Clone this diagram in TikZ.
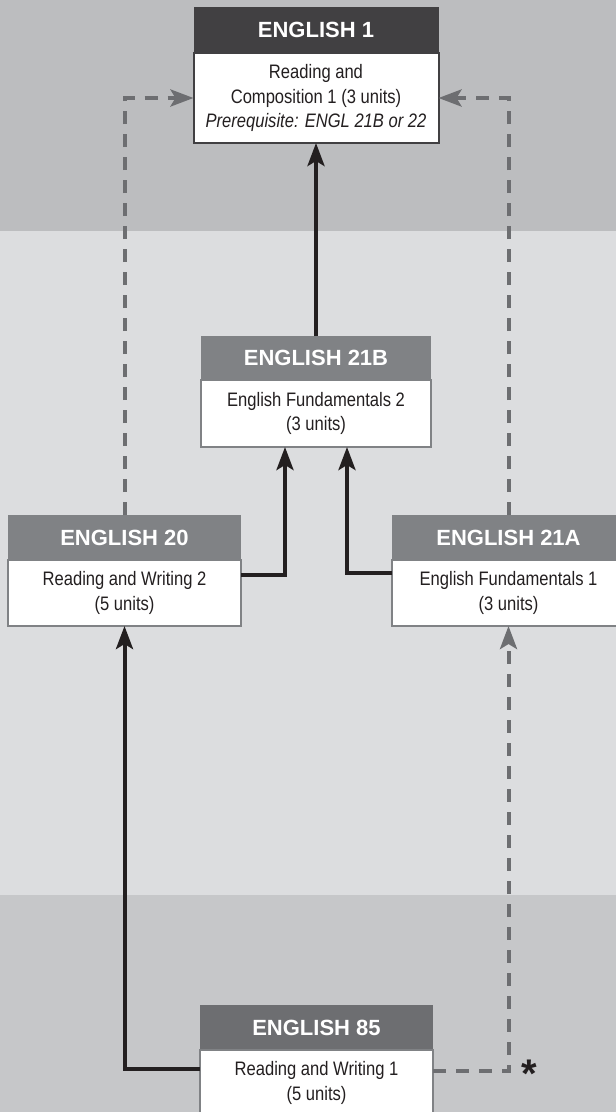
\documentclass[tikz,border=0pt]{standalone}
\usepackage{fontspec}
\setmainfont{Liberation Sans}
\newfontfamily\bodyfont[FakeStretch=0.85]{Liberation Sans}
\newfontfamily\hdrfont{Liberation Sans}
\usetikzlibrary{arrows.meta}
\definecolor{bandtop}{HTML}{BCBDBF}
\definecolor{bandmid}{HTML}{DCDDDF}
\definecolor{bandbot}{HTML}{C6C7C9}
\definecolor{hdark}{HTML}{414042}
\definecolor{hmid}{HTML}{808285}
\definecolor{hlow}{HTML}{6D6E71}
\definecolor{boxedge}{HTML}{808285}
\definecolor{dashcol}{HTML}{6D6E71}
\definecolor{solidcol}{HTML}{231F20}
\definecolor{textcol}{HTML}{231F20}
\begin{document}
\begin{tikzpicture}[x=1pt,y=-1pt,
  hdr/.style={draw=none, inner sep=0pt, outer sep=0pt, text=white,
    font=\hdrfont\fontsize{22}{26}\selectfont\bfseries, minimum height=45pt},
  body/.style={fill=white, draw=boxedge, line width=1.5pt, inner sep=0pt, outer sep=0pt,
    align=center, font=\bodyfont\fontsize{19.5}{24.5}\selectfont, text=textcol, minimum height=66pt},
  tipstyle/.style={-{Stealth[length=23pt,width=17pt,inset=5pt]}},
  solidarrow/.style={line width=4pt, draw=solidcol, tipstyle},
  dasharrow/.style={line width=4pt, draw=dashcol, dash pattern=on 13pt off 10pt, tipstyle},
  asterisk/.style={font=\hdrfont\fontsize{40}{40}\selectfont\bfseries, text=solidcol, inner sep=0pt, anchor=base}]
\useasboundingbox (0,0) rectangle (616,1112);
\clip (0,0) rectangle (616,1112);
% background bands
\fill[bandtop] (0,0) rectangle (616,231);
\fill[bandmid] (0,231) rectangle (616,895);
\fill[bandbot] (0,895) rectangle (616,1112);

% ENGLISH 1
\node[hdr, fill=hdark, minimum width=245pt, minimum height=46pt] (e1h) at (316,30) {ENGLISH 1};
\node[body, draw=hdark, line width=2pt, minimum width=245pt, minimum height=90pt] (e1b) at (316,98)
  {Reading and\\Composition 1 (3 units)\\\textit{Prerequisite: ENGL 21B or 22}};

% ENGLISH 21B
\node[hdr, fill=hmid, minimum width=230pt, minimum height=44pt] (e21bh) at (316,358) {ENGLISH 21B};
\node[body, minimum width=230pt, minimum height=67pt] (e21bb) at (316,413.5)
  {English Fundamentals 2\\(3 units)};

% ENGLISH 20
\node[hdr, fill=hmid, minimum width=233pt] (e20h) at (124.5,537.5) {ENGLISH 20};
\node[body, minimum width=233pt] (e20b) at (124.5,593)
  {Reading and Writing 2\\(5 units)};

% ENGLISH 21A
\node[hdr, fill=hmid, minimum width=233pt] (e21ah) at (508.5,537.5) {ENGLISH 21A};
\node[body, minimum width=233pt] (e21ab) at (508.5,593)
  {English Fundamentals 1\\(3 units)};

% ENGLISH 85
\node[hdr, fill=hlow, minimum width=233pt] (e85h) at (316.5,1027.5) {ENGLISH 85};
\node[body, minimum width=233pt] (e85b) at (316.5,1083)
  {Reading and Writing 1\\(5 units)};

% connectors
\draw[solidarrow] (e21bh.north) -- (e1b.south);
\draw[solidarrow] ([yshift=18pt]e20b.east) -| ([xshift=-31pt]e21bb.south);
\draw[solidarrow] ([yshift=20pt]e21ab.west) -| ([xshift=31pt]e21bb.south);
\draw[dasharrow] (e20h.north) |- (e1b.west);
\draw[dasharrow] (e21ah.north) |- (e1b.east);
\draw[solidarrow] ([yshift=14pt]e85b.west) -| (e20b.south);
\draw[dasharrow] ([yshift=12pt]e85b.east) -| (e21ab.south);
\node[asterisk] (ast) at (529,1087) {*};
\end{tikzpicture}
\end{document}
